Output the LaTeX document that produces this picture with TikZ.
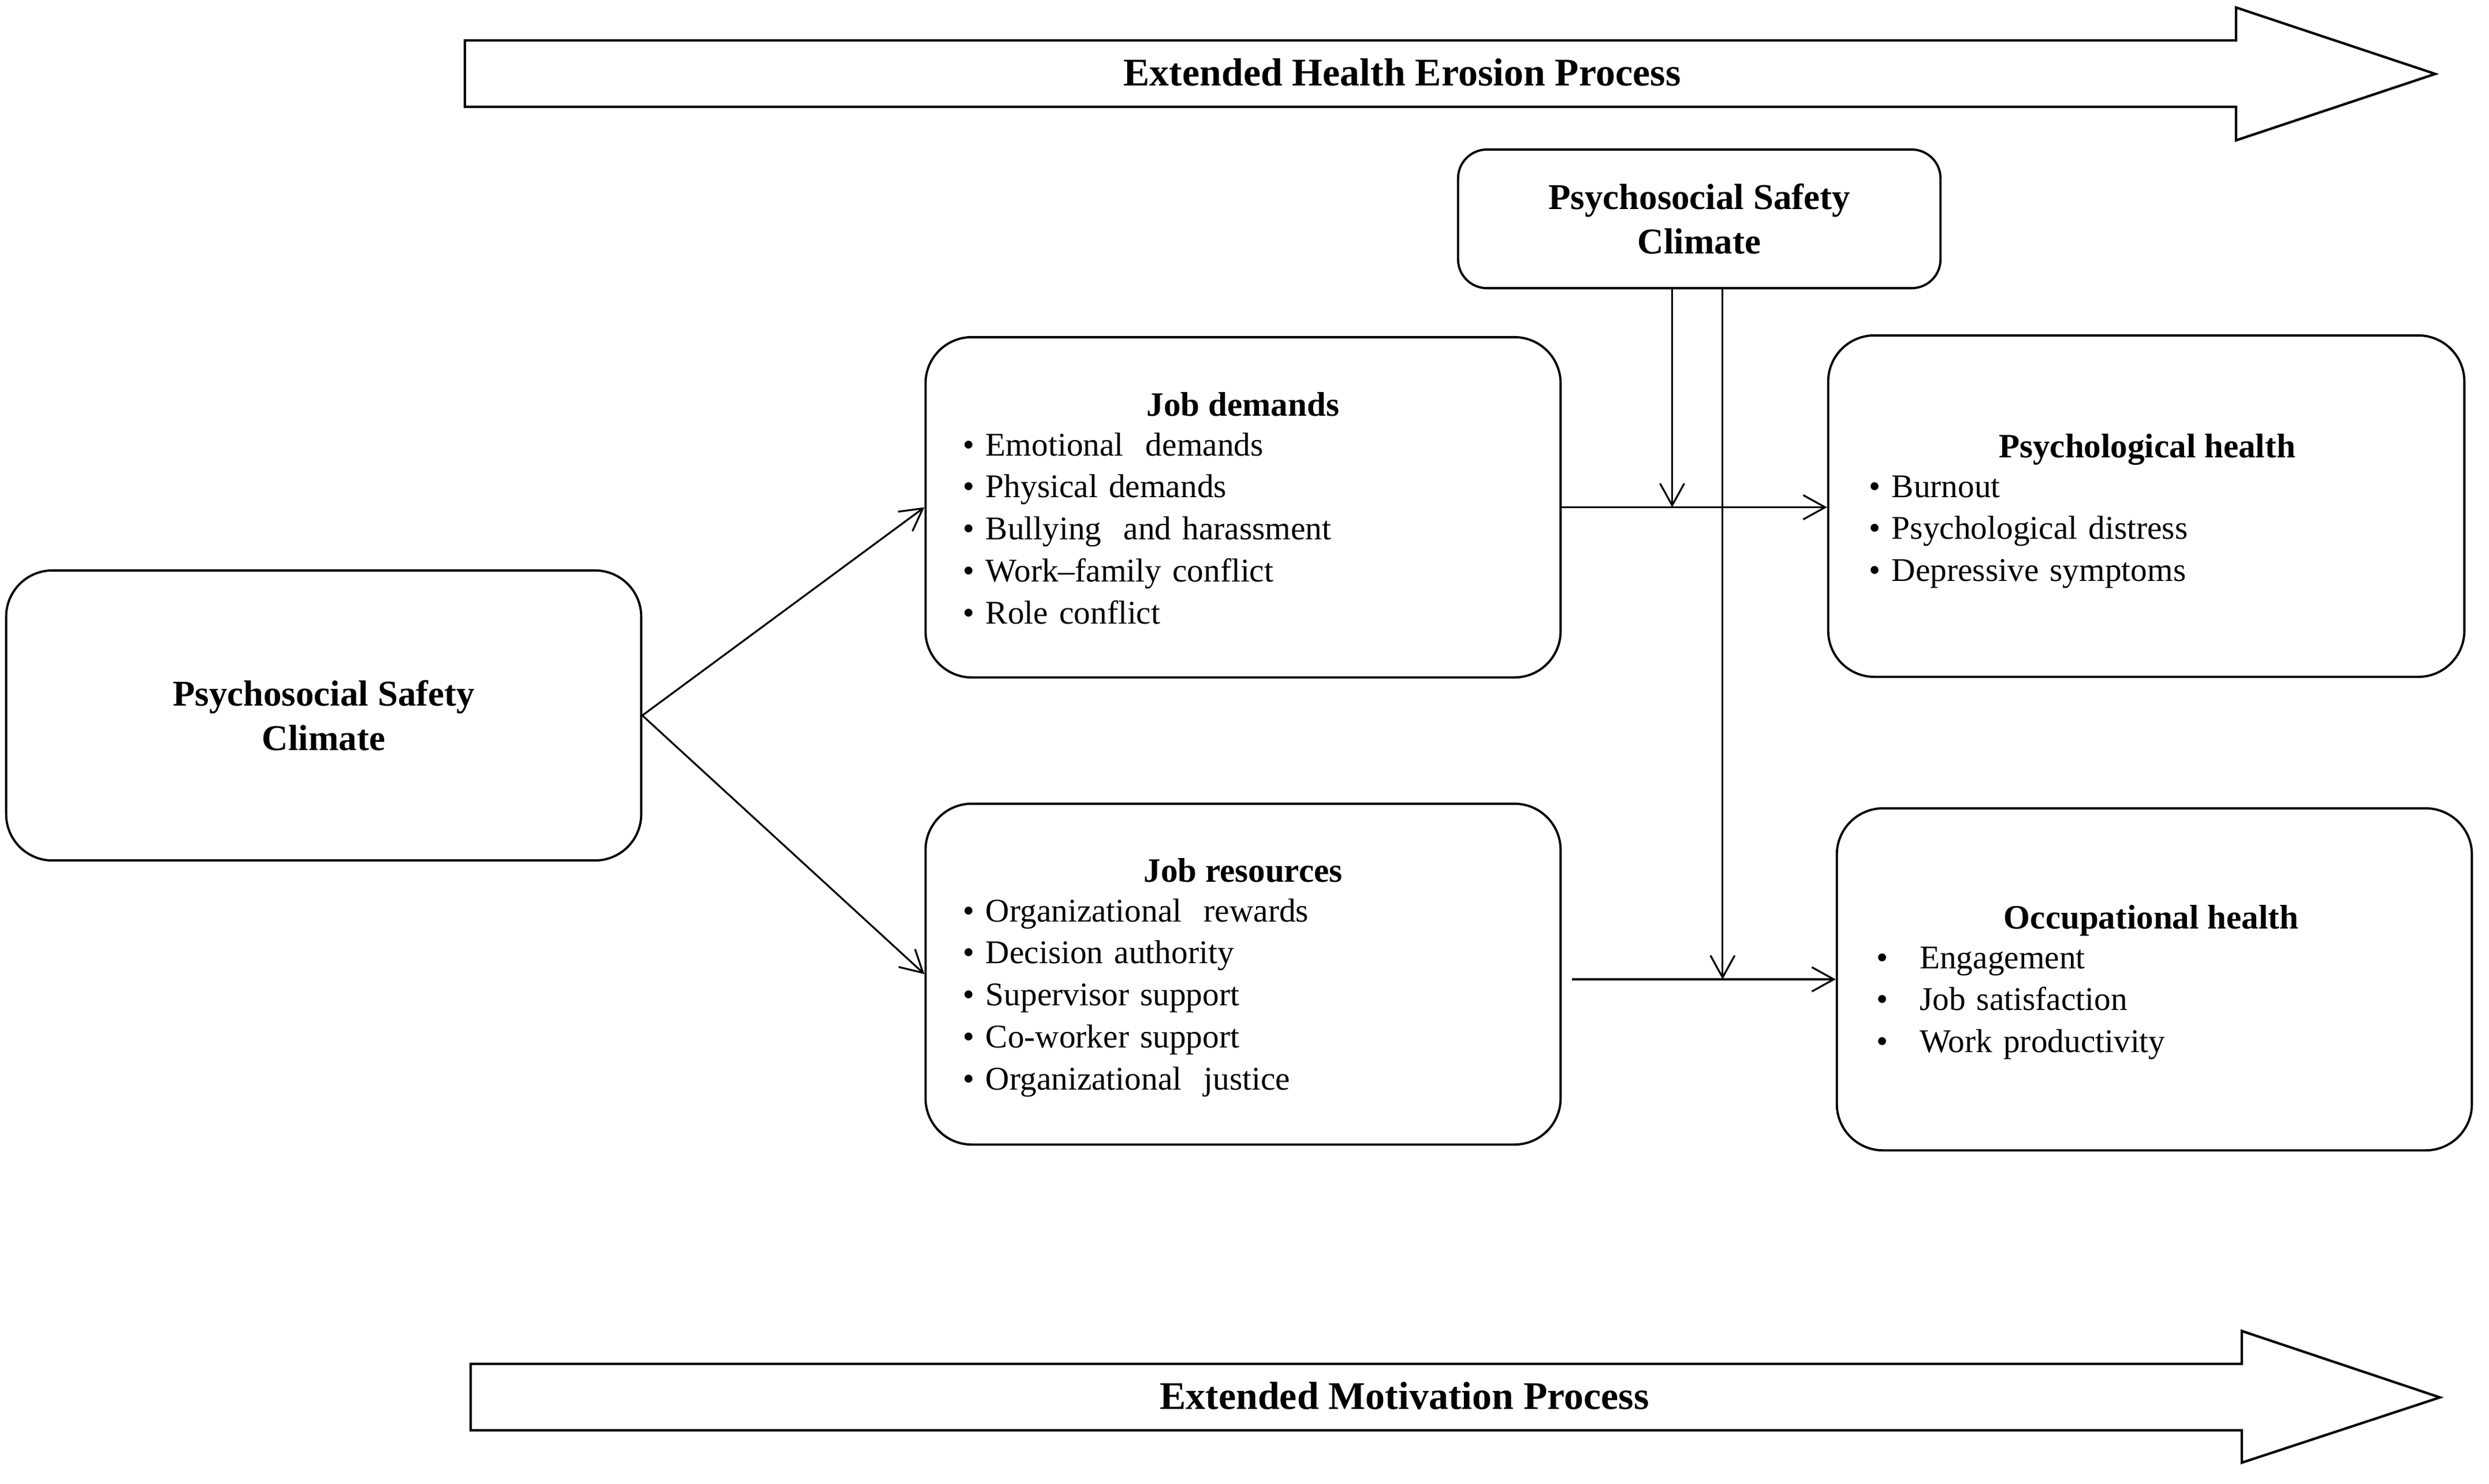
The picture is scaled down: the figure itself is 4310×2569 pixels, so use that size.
\documentclass[tikz,border=0pt]{standalone}
\usepackage{fontspec}
\setmainfont{Liberation Serif}
\usetikzlibrary{arrows.meta,calc}
\begin{document}
\begin{tikzpicture}[x=0.01cm,y=-0.01cm,
  box/.style={draw, line width=1.1pt, rounded corners=0.8cm, inner sep=0pt},
  pscfont/.style={font=\fontsize{17.9}{21.8}\selectfont\bfseries},
  head/.style={font=\fontsize{16.8}{20}\selectfont\bfseries, inner sep=0pt},
  lst/.style={font=\fontsize{16.3}{20.7}\selectfont, inner sep=0pt, text width=9cm, align=left},
  proc/.style={font=\fontsize{19.3}{23}\selectfont\bfseries, inner sep=0pt},
  conn/.style={line width=0.9pt, -{Straight Barb[length=0.38cm,width=0.42cm,line width=0.9pt]}},
  bigarrow/.style={draw, line width=1.2pt, line join=miter}]
\useasboundingbox (0,0) rectangle (4310,2569);

% process arrows
\draw[bigarrow] (805,70) -- (3872,70) -- (3872,13) -- (4217,128) -- (3872,243) -- (3872,185) -- (805,185) -- cycle;
\node[proc, anchor=base] (ehe) at (2428,148) {Extended Health Erosion Process};
\draw[bigarrow] (815,2362) -- (3882,2362) -- (3882,2305) -- (4225,2420) -- (3882,2533) -- (3882,2477) -- (815,2477) -- cycle;
\node[proc, anchor=base] (emp) at (2432,2440) {Extended Motivation Process};

% boxes
\node[box, minimum width=10.99cm, minimum height=5.02cm, pscfont, align=center] (psc) at (560.5,1239) {Psychosocial Safety\\Climate};
\node[box, rounded corners=0.5cm, minimum width=8.35cm, minimum height=2.40cm, pscfont, align=center] (pst) at (2942.5,379) {Psychosocial Safety\\Climate};
\node[box, minimum width=10.99cm, minimum height=5.89cm] (jd) at (2152.5,878.5) {};
\node[box, minimum width=10.99cm, minimum height=5.90cm] (jr) at (2152.5,1687) {};
\node[box, minimum width=11.01cm, minimum height=5.91cm] (ph) at (3716.5,876.5) {};
\node[box, minimum width=10.99cm, minimum height=5.92cm] (oh) at (3730.5,1696) {};

% headings
\node[head, anchor=base] (jdh) at (2152.5,720) {Job demands};
\node[head, anchor=base] (jrh) at (2152.5,1527) {Job resources};
\node[head, anchor=base] (phh) at (3718,792) {Psychological health};
\node[head, anchor=base] (ohh) at (3725,1608) {Occupational health};

% lists
\node[lst, anchor=base west] (jdl) at (1667,789) {• Emotional\ \ demands\\• Physical demands\\• Bullying\ \ and harassment\\• Work–family conflict\\• Role conflict};
\node[lst, anchor=base west] (jrl) at (1667,1596) {• Organizational\ \ rewards\\• Decision authority\\• Supervisor support\\• Co-worker support\\• Organizational\ \ justice};
\node[lst, anchor=base west] (phl) at (3236,861) {• Burnout\\• Psychological distress\\• Depressive symptoms};
\node[lst, anchor=base west] (ohl) at (3249,1677) {\makebox[1.3em][l]{•}Engagement\\\makebox[1.3em][l]{•}Job satisfaction\\\makebox[1.3em][l]{•}Work productivity};

% connectors
\draw[conn] (psc.east) -- (jd.west);
\draw[conn] (psc.east) -- (jr.west);
\draw[conn] (jd.east) -- (jd.east -| ph.west);
\coordinate (jrout) at ($(jr.east |- oh.west)+(18,0)$);
\draw[conn] (jrout) -- (oh.west);
\coordinate (s1) at ($(pst.south west)!0.444!(pst.south east)$);
\coordinate (s2) at ($(pst.south west)!0.548!(pst.south east)$);
\draw[conn] (s1) -- (s1 |- jd.east);
\draw[conn] (s2) -- (s2 |- oh.west);
\end{tikzpicture}
\end{document}
